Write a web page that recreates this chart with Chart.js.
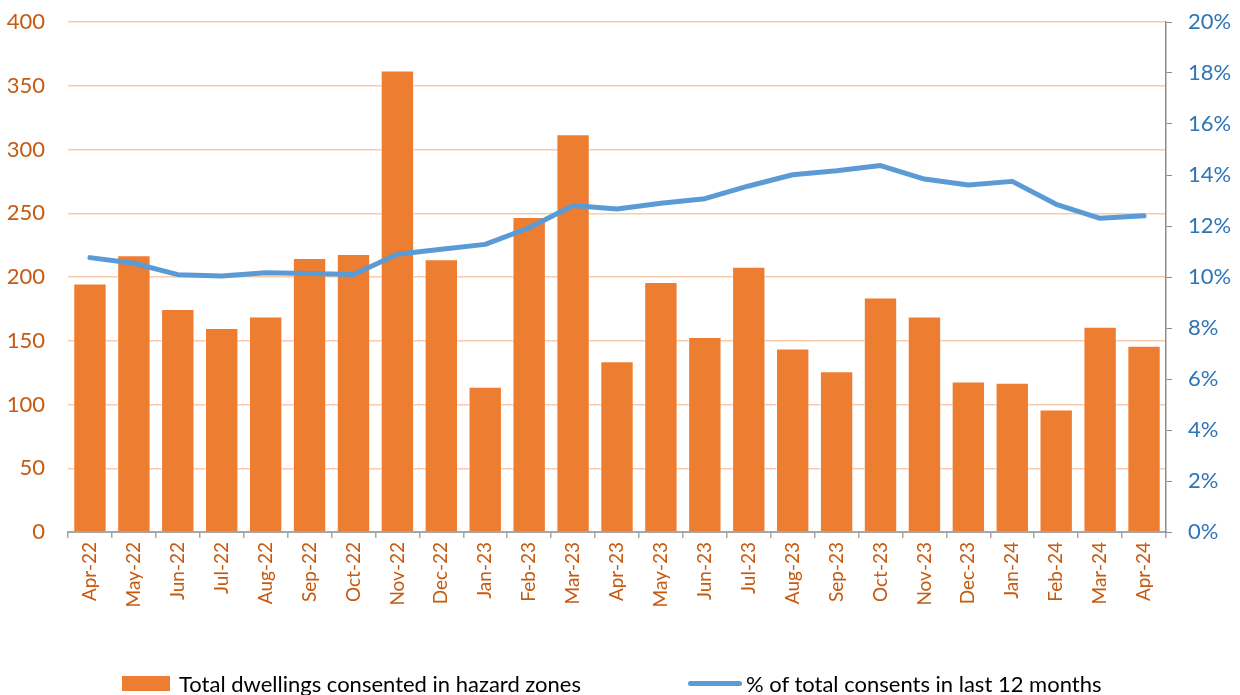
<!DOCTYPE html>
<html>
<head>
<meta charset="utf-8">
<script src="https://cdn.jsdelivr.net/npm/chart.js@4"></script>
<style>
  html, body { margin: 0; padding: 0; background: #fff; }
  #wrap { position: relative; width: 1240px; height: 695px; }
  #c { position: absolute; left: 0; top: 0; }
  #legend { position: absolute; left: 0; top: 671px; width: 1240px; height: 24px; font-family: Lato, sans-serif; font-size: 22px; color: #000; }
  .item { position: absolute; top: 0; display: flex; align-items: center; height: 24px; white-space: nowrap; }
  .box { display: inline-block; width: 48px; height: 15px; background: #ED7D31; margin-right: 9px; }
  .line { display: inline-block; width: 54px; height: 5px; border-radius: 3px; background: #5B9BD5; margin-right: 4px; }
</style>
</head>
<body>
<div id="wrap">
  <canvas id="c" width="1240" height="695"></canvas>
  <div id="legend">
    <div class="item" style="left:122px"><span class="box"></span><span id="lg0"></span></div>
    <div class="item" style="left:688px"><span class="line"></span><span id="lg1"></span></div>
  </div>
</div>
<script>
const categories = ["Apr-22","May-22","Jun-22","Jul-22","Aug-22","Sep-22","Oct-22","Nov-22","Dec-22","Jan-23","Feb-23","Mar-23","Apr-23","May-23","Jun-23","Jul-23","Aug-23","Sep-23","Oct-23","Nov-23","Dec-23","Jan-24","Feb-24","Mar-24","Apr-24"];
const dwellings = [195,217,175,160,169,215,218,362,214,114,247,312,134,196,153,208,144,126,184,169,118,117,96,161,146];
const sharePct = [10.76,10.54,10.09,10.04,10.17,10.14,10.10,10.89,11.09,11.28,11.93,12.80,12.67,12.89,13.07,13.57,14.01,14.17,14.37,13.84,13.61,13.75,12.85,12.30,12.40];
const seriesNames = ["Total dwellings consented in hazard zones","% of total consents in last 12 months"];
const leftTicks = [0,50,100,150,200,250,300,350,400];
const rightTicks = [0,2,4,6,8,10,12,14,16,18,20];

document.getElementById('lg0').textContent = seriesNames[0];
document.getElementById('lg1').textContent = seriesNames[1];

const FONT = 'Lato';
new Chart(document.getElementById('c'), {
  data: {
    labels: categories,
    datasets: [
      {
        type: 'line', label: seriesNames[1], data: sharePct, yAxisID: 'y2',
        borderColor: '#5B9BD5', borderWidth: 5, pointRadius: 0, tension: 0,
        borderCapStyle: 'round', borderJoinStyle: 'round', order: 0
      },
      {
        type: 'bar', label: seriesNames[0], data: dwellings, yAxisID: 'y',
        backgroundColor: '#ED7D31', borderColor: 'rgba(255,255,255,0.45)', borderWidth: 1,
        barPercentage: 0.76, categoryPercentage: 1.0, order: 1
      }
    ]
  },
  options: {
    responsive: false, animation: false,
    layout: { padding: { left: 0, right: 0, top: 22, bottom: 0 } },
    plugins: { legend: { display: false }, tooltip: { enabled: false } },
    scales: {
      x: {
        offset: true,
        afterFit: (s) => { s.height = 163; s.paddingLeft = 0; s.paddingRight = 0; },
        grid: { display: true, offset: true, drawOnChartArea: false, drawTicks: true, tickLength: 6, color: '#A6A6A6', lineWidth: 1.5 },
        border: { display: true, color: '#A6A6A6', width: 2 },
        ticks: { minRotation: 90, maxRotation: 90, autoSkip: false, color: '#C55A11', font: { family: FONT, size: 19 }, padding: 4 }
      },
      y: {
        position: 'left', min: 0, max: 400,
        afterBuildTicks: (s) => { s.ticks = leftTicks.map(v => ({ value: v })); },
        afterFit: (s) => { s.width = 68; s.paddingTop = 0; s.paddingBottom = 0; },
        grid: { color: '#F8CBAD', lineWidth: 1.5, drawTicks: false },
        border: { display: false },
        ticks: { color: '#C55A11', font: { family: FONT, size: 22 }, padding: 23 }
      },
      y2: {
        position: 'right', min: 0, max: 20,
        afterBuildTicks: (s) => { s.ticks = rightTicks.map(v => ({ value: v })); },
        afterFit: (s) => { s.width = 74; s.paddingTop = 0; s.paddingBottom = 0; },
        grid: { drawOnChartArea: false, drawTicks: true, tickLength: 6, color: '#8C8C8C' },
        border: { display: true, color: '#8C8C8C', width: 1.5 },
        ticks: { color: '#2E75B6', font: { family: FONT, size: 22 }, padding: 16, callback: (v) => v + '%' }
      }
    }
  }
});
</script>
</body>
</html>
